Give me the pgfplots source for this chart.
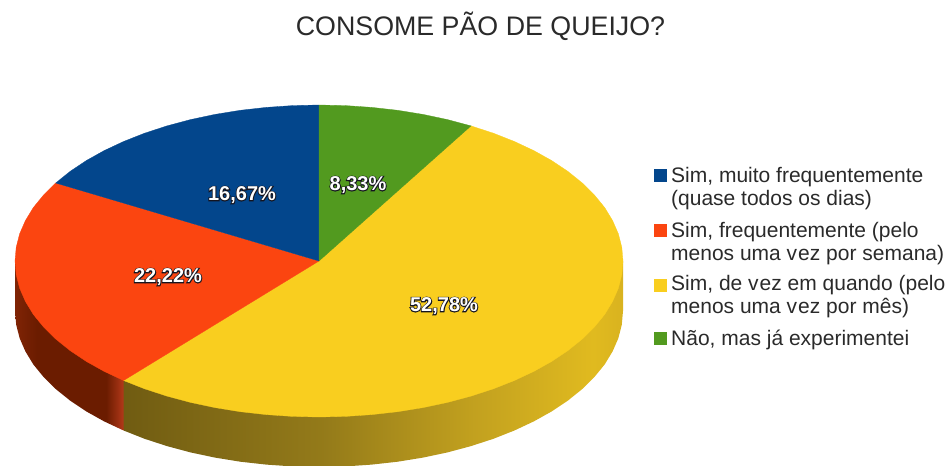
\documentclass[border=0pt]{standalone}
\usepackage{fontspec}
\setmainfont{Liberation Sans}
\newfontfamily\pctback{Liberation Sans Bold}[FakeBold=9]
\usepackage{pgfplots}
\pgfplotsset{compat=1.18}
\definecolor{piablue}{HTML}{03468C}
\definecolor{piared}{HTML}{FB4510}
\definecolor{piayellow}{HTML}{F9CE1F}
\definecolor{piagreen}{HTML}{529A1F}
\definecolor{txt}{HTML}{2A2A2A}
\definecolor{halodk}{HTML}{14141F}
\tikzset{
  legtxt/.style={anchor=base west, inner sep=0pt, text=txt, font=\fontsize{21}{25}\selectfont},
  pctlbl/.style={inner sep=0pt, font=\bfseries\fontsize{20}{24}\selectfont},
}
% shadings are fitted so that 25bp..75bp spans the path
\pgfdeclarehorizontalshading{yellowwall}{100bp}{
  rgb(0bp)=(0.44,0.36,0.07);
  rgb(25bp)=(0.44,0.36,0.07);
  rgb(45bp)=(0.58,0.48,0.10);
  rgb(60bp)=(0.76,0.63,0.12);
  rgb(72bp)=(0.88,0.73,0.12);
  rgb(75bp)=(0.85,0.70,0.12);
  rgb(100bp)=(0.85,0.70,0.12)}
\pgfdeclarehorizontalshading{redwall}{100bp}{
  rgb(0bp)=(0.50,0.14,0.02);
  rgb(25bp)=(0.50,0.14,0.02);
  rgb(35bp)=(0.42,0.11,0.0);
  rgb(67bp)=(0.42,0.11,0.0);
  rgb(75bp)=(0.70,0.22,0.10);
  rgb(100bp)=(0.70,0.22,0.10)}
% dark emboldened copy under the white text
\newcommand\halo[1]{\leavevmode\rlap{\pctback\color{halodk}#1}{\color{white}#1}}
\begin{document}
\begin{tikzpicture}
\begin{axis}[
    scale only axis,
    width=946pt, height=466pt,
    xmin=0, xmax=946, ymin=0, ymax=466,
    y dir=reverse,
    hide axis,
]
% hide axis drops the frame from the bounding box, so keep the full page
\path (rel axis cs:0,0) rectangle (rel axis cs:1,1);
% side wall
\addplot[draw=none, shade, shading=yellowwall] coordinates {
 (623.0,261.0) (623.0,311.0) (621.8,324.6) (618.4,338.1) (612.6,351.4) (604.7,364.4) (594.5,376.9)
 (582.3,389.0) (568.0,400.5) (551.9,411.3) (534.0,421.3) (514.4,430.5) (493.4,438.8) (471.0,446.1)
 (447.5,452.4) (423.0,457.6) (397.7,461.7) (371.8,464.6) (345.5,466.4) (319.0,467.0) (292.5,466.4)
 (266.2,464.6) (240.3,461.7) (215.0,457.6) (190.5,452.4) (167.0,446.1) (144.6,438.8) (123.6,430.5)
 (123.6,380.5)} -- cycle;
\addplot[draw=none, shade, shading=redwall] coordinates {
 (123.6,380.5) (123.6,430.5) (104.0,421.3) (86.1,411.3) (70.0,400.5) (55.7,389.0) (43.5,376.9)
 (33.3,364.4) (25.4,351.4) (19.6,338.1) (16.2,324.6) (15.0,311.0) (15.0,261.0)} -- cycle;
% top face: 52,78 yellow
\addplot[draw=piayellow, line width=.3pt, fill=piayellow] coordinates {
 (319,261) (471.0,125.9) (493.4,133.2) (514.4,141.5) (534.0,150.7) (551.9,160.7) (568.0,171.5)
 (582.3,183.0) (594.5,195.1) (604.7,207.6) (612.6,220.6) (618.4,233.9) (621.8,247.4) (623.0,261.0)
 (621.8,274.6) (618.4,288.1) (612.6,301.4) (604.7,314.4) (594.5,326.9) (582.3,339.0) (568.0,350.5)
 (551.9,361.3) (534.0,371.3) (514.4,380.5) (493.4,388.8) (471.0,396.1) (447.5,402.4) (423.0,407.6)
 (397.7,411.7) (371.8,414.6) (345.5,416.4) (319.0,417.0) (292.5,416.4) (266.2,414.6) (240.3,411.7)
 (215.0,407.6) (190.5,402.4) (167.0,396.1) (144.6,388.8) (123.6,380.5)} -- cycle;
% 22,22 red
\addplot[draw=piared, line width=.3pt, fill=piared] coordinates {
 (319,261) (123.6,380.5) (104.0,371.3) (86.1,361.3) (70.0,350.5) (55.7,339.0) (43.5,326.9)
 (33.3,314.4) (25.4,301.4) (19.6,288.1) (16.2,274.6) (15.0,261.0) (16.2,247.4) (19.6,233.9)
 (25.4,220.6) (33.3,207.6) (43.5,195.1) (55.7,183.0)} -- cycle;
% 16,67 blue
\addplot[draw=piablue, line width=.3pt, fill=piablue] coordinates {
 (319,261) (55.7,183.0) (70.0,171.5) (86.1,160.7) (104.0,150.7) (123.6,141.5) (144.6,133.2)
 (167.0,125.9) (190.5,119.6) (215.0,114.4) (240.3,110.3) (266.2,107.4) (292.5,105.6) (319.0,105.0)} -- cycle;
% 8,33 green
\addplot[draw=piagreen, line width=.3pt, fill=piagreen] coordinates {
 (319,261) (319.0,105.0) (345.5,105.6) (371.8,107.4) (397.7,110.3) (423.0,114.4) (447.5,119.6) (471.0,125.9)} -- cycle;
% percent labels
\node[pctlbl] at (axis cs:242,195) {\halo{16,67\%}};
\node[pctlbl] at (axis cs:358,185) {\halo{8,33\%}};
\node[pctlbl] at (axis cs:168,277) {\halo{22,22\%}};
\node[pctlbl] at (axis cs:444,306) {\halo{52,78\%}};
% title
\node[anchor=base, inner sep=0pt, text=txt, font=\fontsize{26.8}{30}\selectfont] at (axis cs:480.5,35) {CONSOME PÃO DE QUEIJO?};
% legend
\addplot[only marks, mark=square*, mark size=6pt, mark options={draw=piablue, fill=piablue}] coordinates {(660,175)};
\addplot[only marks, mark=square*, mark size=6pt, mark options={draw=piared, fill=piared}] coordinates {(660,230)};
\addplot[only marks, mark=square*, mark size=6pt, mark options={draw=piayellow, fill=piayellow}] coordinates {(660,285)};
\addplot[only marks, mark=square*, mark size=6pt, mark options={draw=piagreen, fill=piagreen}] coordinates {(660,338)};
\node[legtxt] at (axis cs:671,182) {Sim, muito frequentemente};
\node[legtxt] at (axis cs:671,205.5) {(quase todos os dias)};
\node[legtxt] at (axis cs:671,237) {Sim, frequentemente (pelo};
\node[legtxt] at (axis cs:671,260.5) {menos uma v\kern1pt ez por semana)};
\node[legtxt] at (axis cs:671,290) {Sim, de v\kern1pt ez em quando (pelo};
\node[legtxt] at (axis cs:671,313.5) {menos uma v\kern1pt ez por mês)};
\node[legtxt] at (axis cs:671,345) {Não, mas já experimentei};
\end{axis}
\end{tikzpicture}
\end{document}
